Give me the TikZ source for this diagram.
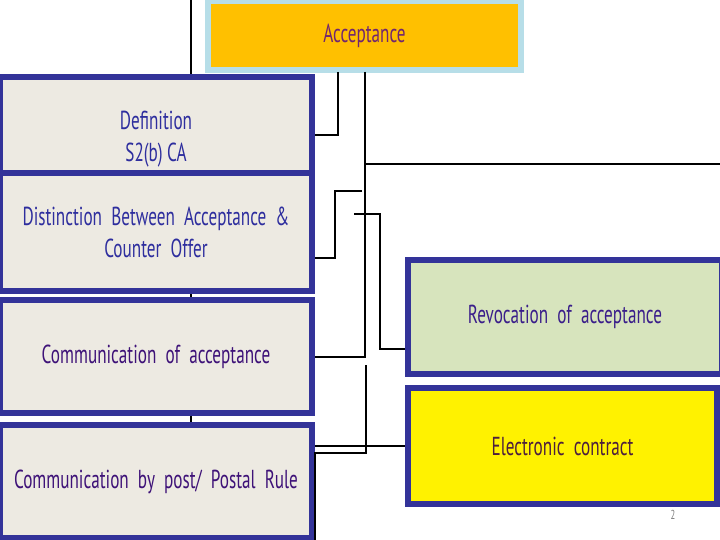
\documentclass[tikz,border=0pt]{standalone}
\usepackage{fontspec}
\setmainfont[FakeStretch=0.66]{PT Sans}
\definecolor{lbfill}{HTML}{EDEAE2}
\definecolor{navy}{HTML}{333399}
\definecolor{accfill}{HTML}{FFC000}
\definecolor{accbord}{HTML}{B7DEE8}
\definecolor{acctext}{HTML}{702670}
\definecolor{revfill}{HTML}{D7E4BD}
\definecolor{revtext}{HTML}{3A1E8A}
\definecolor{eltext}{HTML}{4D1F3D}
\definecolor{bluetext}{HTML}{2E2E9E}
\definecolor{purptext}{HTML}{3E1278}
\tikzset{
  box/.style={draw=navy, line width=6pt, inner sep=0pt, align=center,
    font=\fontsize{26}{32}\selectfont},
  leftbox/.style={box, fill=lbfill, minimum width=312pt},
  conn/.style={draw=black, line width=2pt},
}
\begin{document}
\begin{tikzpicture}[x=1pt, y=-1pt]
\useasboundingbox (0,0) rectangle (720,540);
% long vertical line behind left boxes
\coordinate (vtop) at (191,0);
\coordinate (vbot) at (191,430);
\draw[conn] (vtop) -- (vbot);
% nodes
\node[box, draw=accbord, fill=accfill, text=acctext, minimum width=313pt, minimum height=69pt] (acc) at (364.5,35.5) {Acceptance};
\node[leftbox, minimum height=96pt] (def) at (156,125) {};
\node[box, draw=none, text=bluetext] (deftext) at (156,139) {Definition\\S2(b) CA};
\node[leftbox, minimum height=117pt, text=bluetext] (dist) at (156,232) {Distinction\ \ Between\ \ Acceptance\ \ \&\\Counter\ \ Offer};
\node[leftbox, minimum height=113pt, text=purptext] (comm) at (156,356.5) {Communication\ \ of\ \ acceptance};
\node[leftbox, minimum height=113pt, text=purptext] (post) at (156,481.5) {Communication\ \ by\ \ post/\ \ Postal\ \ Rule};
\node[box, fill=revfill, text=revtext, minimum width=314pt, minimum height=114pt] (rev) at (565,317) {Revocation\ \ of\ \ acceptance};
\node[box, fill=yellow, text=eltext, minimum width=309pt, minimum height=116pt] (elec) at (562.5,446) {Electronic\ \ contract};
\node[text=gray, font=\fontsize{13}{14}\selectfont] (pg) at (673,515) {2};
% connector helper coordinates
\coordinate (k1) at (362,191);
\coordinate (k2) at (354,214);
\coordinate (k3) at (366,365);
\coordinate (j1) at (365,164);
\coordinate (rend) at (720,164);
\coordinate (p1) at (315,453);
\coordinate (p2) at (315,540);
% connectors
\draw[conn] ([xshift=-26.5pt,yshift=1pt]acc.south) |- ([yshift=-10pt]def.east);
\draw[conn] ([xshift=0.5pt,yshift=1pt]acc.south) |- (comm.east);
\draw[conn] (j1) -- (rend);
\draw[conn] (k1) -- ++(-27,0) |- ([yshift=-26pt]dist.east);
\draw[conn] (k2) -- ++(26,0) |- ([yshift=-32pt]rev.west);
\draw[conn] (post.east |- elec.west) -- (elec.west);
\draw[conn] (k3) |- (p1) -- (p2);
\end{tikzpicture}
\end{document}
